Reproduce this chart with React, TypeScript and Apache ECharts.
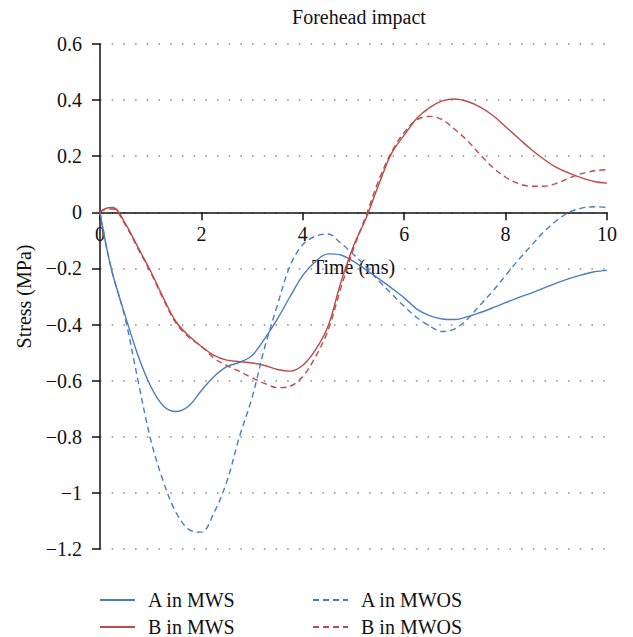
import React, { useEffect, useRef } from "react";
import * as echarts from "echarts";

// Sample times (ms)
const times = [
  0, 0.1, 0.25, 0.5, 0.75, 1, 1.25, 1.5, 1.75, 2, 2.25, 2.5, 2.75, 3, 3.25, 3.5,
  3.75, 4, 4.25, 4.5, 4.75, 5, 5.25, 5.5, 5.75, 6, 6.25, 6.5, 6.75, 7, 7.25, 7.5,
  7.75, 8, 8.25, 8.5, 8.75, 9, 9.25, 9.5, 9.75, 10,
];

// Stress (MPa) at point A, with skull model
const aMWS = [
  0, -0.1, -0.22, -0.37, -0.51, -0.62, -0.69, -0.71, -0.69, -0.635, -0.585, -0.55,
  -0.535, -0.51, -0.45, -0.38, -0.3, -0.225, -0.175, -0.148, -0.152, -0.175, -0.205,
  -0.237, -0.27, -0.305, -0.345, -0.368, -0.38, -0.382, -0.372, -0.357, -0.34, -0.322,
  -0.304, -0.288, -0.27, -0.252, -0.236, -0.223, -0.212, -0.207,
];

// Stress (MPa) at point A, without skull model
const aMWOS = [
  0, -0.1, -0.22, -0.38, -0.6, -0.81, -0.96, -1.07, -1.13, -1.14, -1.07, -0.96, -0.8,
  -0.66, -0.48, -0.33, -0.19, -0.115, -0.085, -0.077, -0.11, -0.15, -0.195, -0.245,
  -0.29, -0.335, -0.375, -0.405, -0.425, -0.415, -0.38, -0.33, -0.28, -0.225, -0.17,
  -0.12, -0.07, -0.03, 0, 0.015, 0.02, 0.018,
];

// Stress (MPa) at point B, with skull model
const bMWS = [
  0, 0.013, 0.017, -0.04, -0.125, -0.21, -0.305, -0.39, -0.44, -0.478, -0.51, -0.527,
  -0.532, -0.537, -0.546, -0.56, -0.566, -0.545, -0.49, -0.405, -0.25, -0.12, -0.02,
  0.1, 0.21, 0.275, 0.335, 0.373, 0.397, 0.404, 0.395, 0.375, 0.345, 0.305, 0.265,
  0.225, 0.19, 0.16, 0.14, 0.123, 0.11, 0.104,
];

// Stress (MPa) at point B, without skull model
const bMWOS = [
  0, 0.01, 0.012, -0.045, -0.13, -0.215, -0.31, -0.395, -0.445, -0.478, -0.52, -0.546,
  -0.567, -0.59, -0.61, -0.625, -0.62, -0.585, -0.515, -0.42, -0.27, -0.13, -0.01,
  0.115, 0.215, 0.285, 0.33, 0.342, 0.33, 0.295, 0.255, 0.205, 0.16, 0.125, 0.103,
  0.093, 0.093, 0.103, 0.122, 0.138, 0.148, 0.152,
];

const seriesNames = ["A in MWS", "B in MWS", "A in MWOS", "B in MWOS"];

const Y_MIN = -1.2;
const Y_MAX = 0.6;

const BLUE = "#4a7dc0";
const RED = "#be4b48";
const FONT = "Liberation Serif";

const GRID_TOP = 44;
const GRID_BOTTOM = 88;
const HEIGHT = 637;

const pairs = (vals: number[]) => times.map((t, i) => [t, vals[i]]);

const fmtY = (v: number) => {
  const r = Math.round(v * 10) / 10;
  if (r === 0) return "0";
  return String(r).replace("-", "\u2212");
};

export default function App() {
  const ref = useRef<HTMLDivElement>(null);

  useEffect(() => {
    if (!ref.current) return;
    const chart = echarts.init(ref.current, undefined, { renderer: "svg" });

    // The time axis runs along the zero stress line
    const plotH = HEIGHT - GRID_TOP - GRID_BOTTOM;
    const zeroShift = -((0 - Y_MIN) / (Y_MAX - Y_MIN)) * plotH;

    const lineSeries = (
      name: string,
      vals: number[],
      color: string,
      dashed: boolean
    ) => ({
      name,
      type: "line",
      data: pairs(vals),
      smooth: 0.35,
      symbol: "none",
      showSymbol: false,
      lineStyle: { color, width: 1.4, type: dashed ? [6, 4] : "solid" },
      itemStyle: { color },
    });

    const legendAt = (name: string, left: number, top: number) => ({
      data: [name],
      left,
      top,
      padding: 0,
      itemWidth: 35,
      itemHeight: 14,
      itemStyle: { opacity: 0 },
      textStyle: {
        fontFamily: FONT,
        fontSize: 20,
        color: "#111",
        padding: [0, 0, 0, 8],
      },
    });

    chart.setOption({
      animation: false,
      backgroundColor: "#fff",
      title: {
        text: "Forehead impact",
        left: 354,
        textAlign: "center",
        top: 2,
        textStyle: {
          fontFamily: FONT,
          fontSize: 20,
          fontWeight: "normal",
          color: "#111",
        },
      },
      legend: [
        legendAt(seriesNames[0], 99, 590),
        legendAt(seriesNames[1], 99, 617),
        legendAt(seriesNames[2], 312, 590),
        legendAt(seriesNames[3], 312, 617),
      ],
      grid: { left: 100, right: 26, top: GRID_TOP, bottom: GRID_BOTTOM, containLabel: false },
      xAxis: {
        type: "value",
        min: 0,
        max: 10,
        interval: 2,
        offset: zeroShift,
        name: "Time (ms)",
        nameLocation: "middle",
        nameGap: 45,
        nameTextStyle: { fontFamily: FONT, fontSize: 20, color: "#111" },
        axisLine: { onZero: false, lineStyle: { color: "#111", width: 1.5 } },
        axisTick: { show: true, inside: false, length: 8, lineStyle: { color: "#111", width: 1.5 } },
        axisLabel: { fontFamily: FONT, fontSize: 20, color: "#111", margin: 12 },
        splitLine: { show: false },
      },
      yAxis: {
        type: "value",
        min: Y_MIN,
        max: Y_MAX,
        interval: 0.2,
        name: "Stress (MPa)",
        nameLocation: "middle",
        nameRotate: 90,
        nameGap: 66,
        nameTextStyle: { fontFamily: FONT, fontSize: 20, color: "#111" },
        axisLine: { show: true, onZero: false, lineStyle: { color: "#111", width: 1.5 } },
        axisTick: { show: true, length: 8, lineStyle: { color: "#111", width: 1.5 } },
        axisLabel: {
          fontFamily: FONT,
          fontSize: 20,
          color: "#111",
          margin: 18,
          formatter: fmtY,
        },
        splitLine: {
          show: true,
          lineStyle: { color: "#888", width: 1.5, type: [1.5, 10.2] },
        },
      },
      series: [
        lineSeries(seriesNames[0], aMWS, BLUE, false),
        lineSeries(seriesNames[1], bMWS, RED, false),
        lineSeries(seriesNames[2], aMWOS, BLUE, true),
        lineSeries(seriesNames[3], bMWOS, RED, true),
      ],
    });

    return () => chart.dispose();
  }, []);

  return (
    <div
      ref={ref}
      style={{ position: "fixed", left: 0, top: 0, width: 633, height: HEIGHT, background: "#fff" }}
    />
  );
}
